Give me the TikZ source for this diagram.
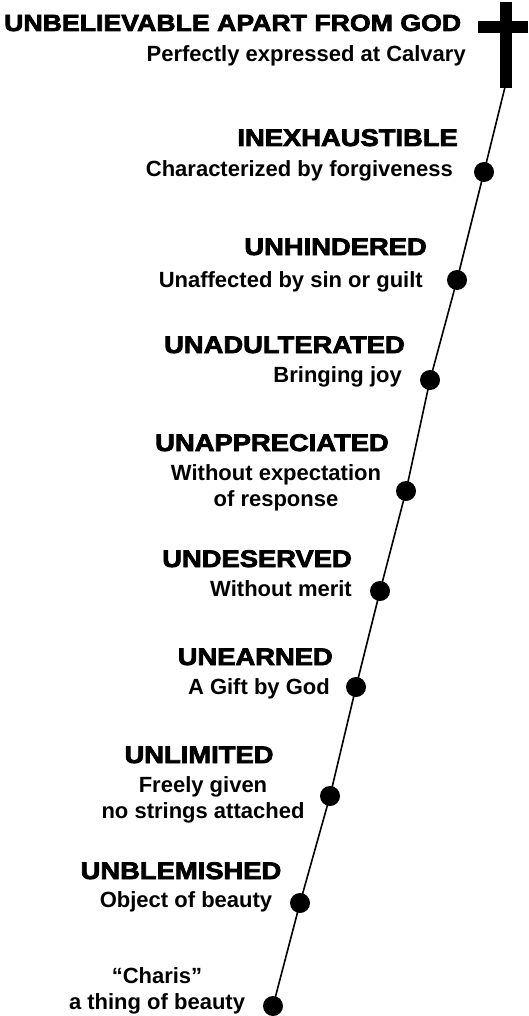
\documentclass[tikz,border=0pt]{standalone}
\usepackage{fontspec}
\setmainfont{Liberation Sans}
\newfontfamily\headfont{Liberation Sans}[BoldFeatures={FakeBold=3.2,FakeStretch=1.14}]
\usepackage{tikz}
\usetikzlibrary{calc}
\tikzset{>=latex}
\tikzset{
  head/.style={inner sep=0pt, font=\headfont\bfseries\fontsize{24}{28}\selectfont},
  desc/.style={inner sep=0pt, align=center, font=\bfseries\fontsize{22}{26}\selectfont},
  bead/.style={circle, fill=black, inner sep=0pt, minimum size=20pt}
}

\begin{document}
\begin{tikzpicture}[x=1pt, y=-1pt]
\useasboundingbox (0,0) rectangle (528,1016);
% cross at the top
\fill (500,2) rectangle (512,88);
\fill (478,21) rectangle (528,33);
\coordinate (foot) at (505,87);
% beads along the line
\node[bead] (p1) at (484,172) {};
\node[bead] (p2) at (457,280) {};
\node[bead] (p3) at (430,380) {};
\node[bead] (p4) at (406,491) {};
\node[bead] (p5) at (380,591) {};
\node[bead] (p6) at (356,687) {};
\node[bead] (p7) at (330,796) {};
\node[bead] (p8) at (300,903) {};
\node[bead] (p9) at (273,1006) {};
\draw[line width=1.6pt] (foot) -- (p1.center) -- (p2.center) -- (p3.center) -- (p4.center) -- (p5.center)
  -- (p6.center) -- (p7.center) -- (p8.center) -- (p9.center);
% labels
\node[head, font=\headfont\bfseries\fontsize{23.4}{28}\selectfont, anchor=base west] (t0) at (4,31) {UNBELIEVABLE APART FROM GOD};
\node[desc, anchor=base east] (d0) at (466,62) {Perfectly expressed at Calvary};
\node[head, anchor=base east] (t1) at (458,146) {INEXHAUSTIBLE};
\node[desc, anchor=base east] (d1) at (453,177) {Characterized by forgiveness};
\node[head, anchor=base east] (t2) at (427,255) {UNHINDERED};
\node[desc, anchor=base east] (d2) at (423,287) {Unaffected by sin or guilt};
\node[head, anchor=base east] (t3) at (405,353) {UNADULTERATED};
\node[desc, anchor=base east] (d3) at (402,382) {Bringing joy};
\node[head, anchor=base] (t4) at (272,451) {UNAPPRECIATED};
\node[desc, anchor=base] (d4) at (276,506) {Without expectation\\of response};
\node[head, anchor=base east] (t5) at (352,567) {UNDESERVED};
\node[desc, anchor=base east] (d5) at (352,596) {Without merit};
\node[head, anchor=base east] (t6) at (333,665) {UNEARNED};
\node[desc, anchor=base east] (d6) at (330,694) {A Gift by God};
\node[head, anchor=base] (t7) at (199,763) {UNLIMITED};
\node[desc, anchor=base] (d7) at (203,818) {Freely given\\no strings attached};
\node[head, anchor=base] (t8) at (181,879) {UNBLEMISHED};
\node[desc, anchor=base] (d8) at (186,907) {Object of beauty};
\node[desc, anchor=base] (d9) at (157,1009) {“Charis”\\a thing of beauty};
\end{tikzpicture}
\end{document}
